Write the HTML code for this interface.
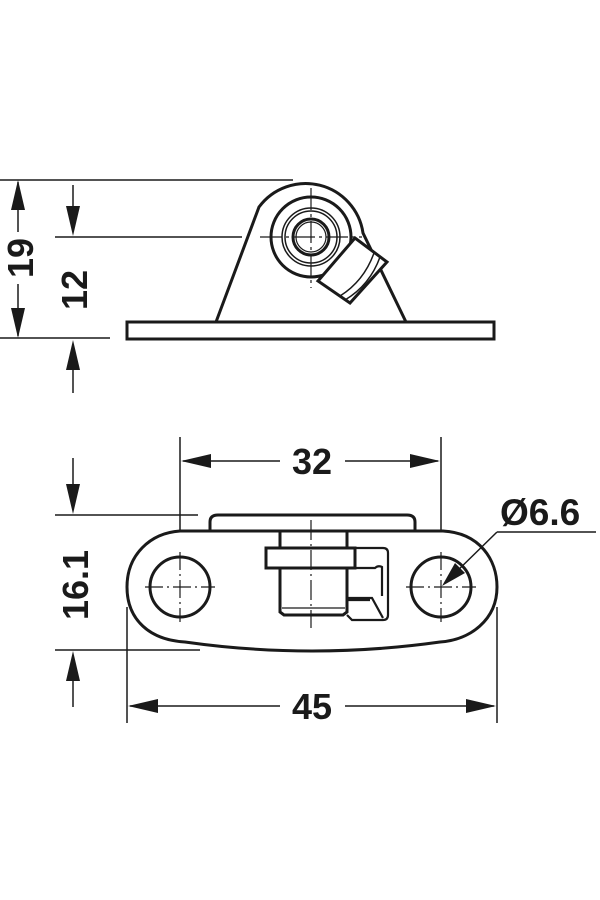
<!DOCTYPE html>
<html><head><style>html,body{margin:0;padding:0;background:#fff}svg{display:block}
text{font-family:"Liberation Sans",sans-serif;font-weight:bold;fill:#1a1a1a}</style></head>
<body>
<svg width="600" height="900" viewBox="0 0 600 900" xmlns="http://www.w3.org/2000/svg">
<g stroke="#1a1a1a" fill="none">
<!-- TOP VIEW -->
<line x1="0" y1="180" x2="293" y2="180" stroke-width="1.5"/>
<line x1="55" y1="237" x2="242" y2="237" stroke-width="1.5"/>
<line x1="0" y1="338" x2="110" y2="338" stroke-width="1.5"/>
<line x1="18" y1="182" x2="18" y2="232" stroke-width="1.5"/>
<line x1="18" y1="284" x2="18" y2="336" stroke-width="1.5"/>
<line x1="73" y1="185" x2="73" y2="230" stroke-width="1.5"/>
<line x1="73" y1="345" x2="73" y2="393" stroke-width="1.5"/>
<rect x="127" y="322" width="367" height="17" stroke-width="3" fill="#fff"/>
<path d="M216 322 L259 207 A58 58 0 0 1 363 233 L406 322" stroke-width="3"/>
<circle cx="311" cy="237" r="40" stroke-width="3"/>
<polygon points="355,238 387,262 350,303 318,281" fill="#fff" stroke-width="3"/>
<path d="M380 257 Q370 285 345 300 M374 253 Q364 281 340 296" stroke-width="1.5"/>
<circle cx="311" cy="237" r="29" stroke-width="1.5"/>
<circle cx="311" cy="237" r="26" stroke-width="1.5"/>
<circle cx="311" cy="237" r="18" stroke-width="3"/>
<circle cx="311" cy="237" r="15" stroke-width="1.2"/>
<path d="M260 237 H362 M311 188 V288" stroke-width="1.2" stroke-dasharray="22 4 3 4"/>
<!-- BOTTOM VIEW -->
<line x1="180" y1="437" x2="180" y2="600" stroke-width="1.5"/>
<line x1="441" y1="437" x2="441" y2="600" stroke-width="1.5"/>
<line x1="55" y1="515" x2="198" y2="515" stroke-width="1.5"/>
<line x1="55" y1="650" x2="200" y2="650" stroke-width="1.5"/>
<line x1="127" y1="607" x2="127" y2="723" stroke-width="1.5"/>
<line x1="497" y1="607" x2="497" y2="723" stroke-width="1.5"/>
<line x1="183" y1="461" x2="280" y2="461" stroke-width="1.5"/>
<line x1="345" y1="461" x2="438" y2="461" stroke-width="1.5"/>
<line x1="130" y1="706" x2="280" y2="706" stroke-width="1.5"/>
<line x1="345" y1="706" x2="494" y2="706" stroke-width="1.5"/>
<line x1="73" y1="458" x2="73" y2="505" stroke-width="1.5"/>
<line x1="73" y1="660" x2="73" y2="707" stroke-width="1.5"/>
<path d="M210 530 V522 Q210 515 218 515 H407 Q415 515 415 522 V530" stroke-width="3"/>
<path d="M180 531 L443 531 C480 533 497 560 497 587 C497 620 470 640 440 642 Q312 660 185 642 C150 640 127 620 127 587 C127 555 150 533 180 531 Z" stroke-width="3" fill="#fff"/>
<circle cx="180" cy="587" r="30" stroke-width="3"/>
<circle cx="441" cy="587" r="30" stroke-width="3"/>
<path d="M145 587 H215 M180 552 V622 M406 587 H476 M441 552 V622" stroke-width="1.2" stroke-dasharray="18 4 2 4"/>
<path d="M280 532 V612 L284 615 H343 L347 612 V532" stroke-width="3"/>
<line x1="282" y1="608" x2="345" y2="608" stroke-width="1.2"/>
<rect x="266" y="548" width="89" height="20" stroke-width="3" fill="#fff"/>
<path d="M355 548 H383 Q388 548 388 553 V615 Q388 620 383 620 H352 L347 615 M347 598 H372 L383 618 M355 568 H375 Q378 565 382 567 V596 M346 600 H370" stroke-width="2.2"/>
<line x1="311" y1="520" x2="311" y2="628" stroke-width="1.2" stroke-dasharray="20 4 2 4"/>
<path d="M497 532 H596 M497 532 L450 578" stroke-width="1.5"/>
</g>
<g fill="#1a1a1a">
<polygon points="18,180 11,210 25,210"/>
<polygon points="18,338 11,308 25,308"/>
<polygon points="73,236 66,206 80,206"/>
<polygon points="73,340 66,370 80,370"/>
<polygon points="181,461 211,454 211,468"/>
<polygon points="440,461 410,454 410,468"/>
<polygon points="128,706 158,699 158,713"/>
<polygon points="496,706 466,699 466,713"/>
<polygon points="73,514 66,484 80,484"/>
<polygon points="73,651 66,681 80,681"/>
<polygon points="442,586 455,563 465,573"/>
</g>
<text x="312" y="474" font-size="36" text-anchor="middle">32</text>
<text x="312" y="719" font-size="36" text-anchor="middle">45</text>
<text x="500" y="525" font-size="37">Ø6.6</text>
<text transform="translate(33,258) rotate(-90)" font-size="36" text-anchor="middle">19</text>
<text transform="translate(87,290) rotate(-90)" font-size="36" text-anchor="middle">12</text>
<text transform="translate(88,585) rotate(-90)" font-size="36" text-anchor="middle">16.1</text>
</svg>
</body></html>
